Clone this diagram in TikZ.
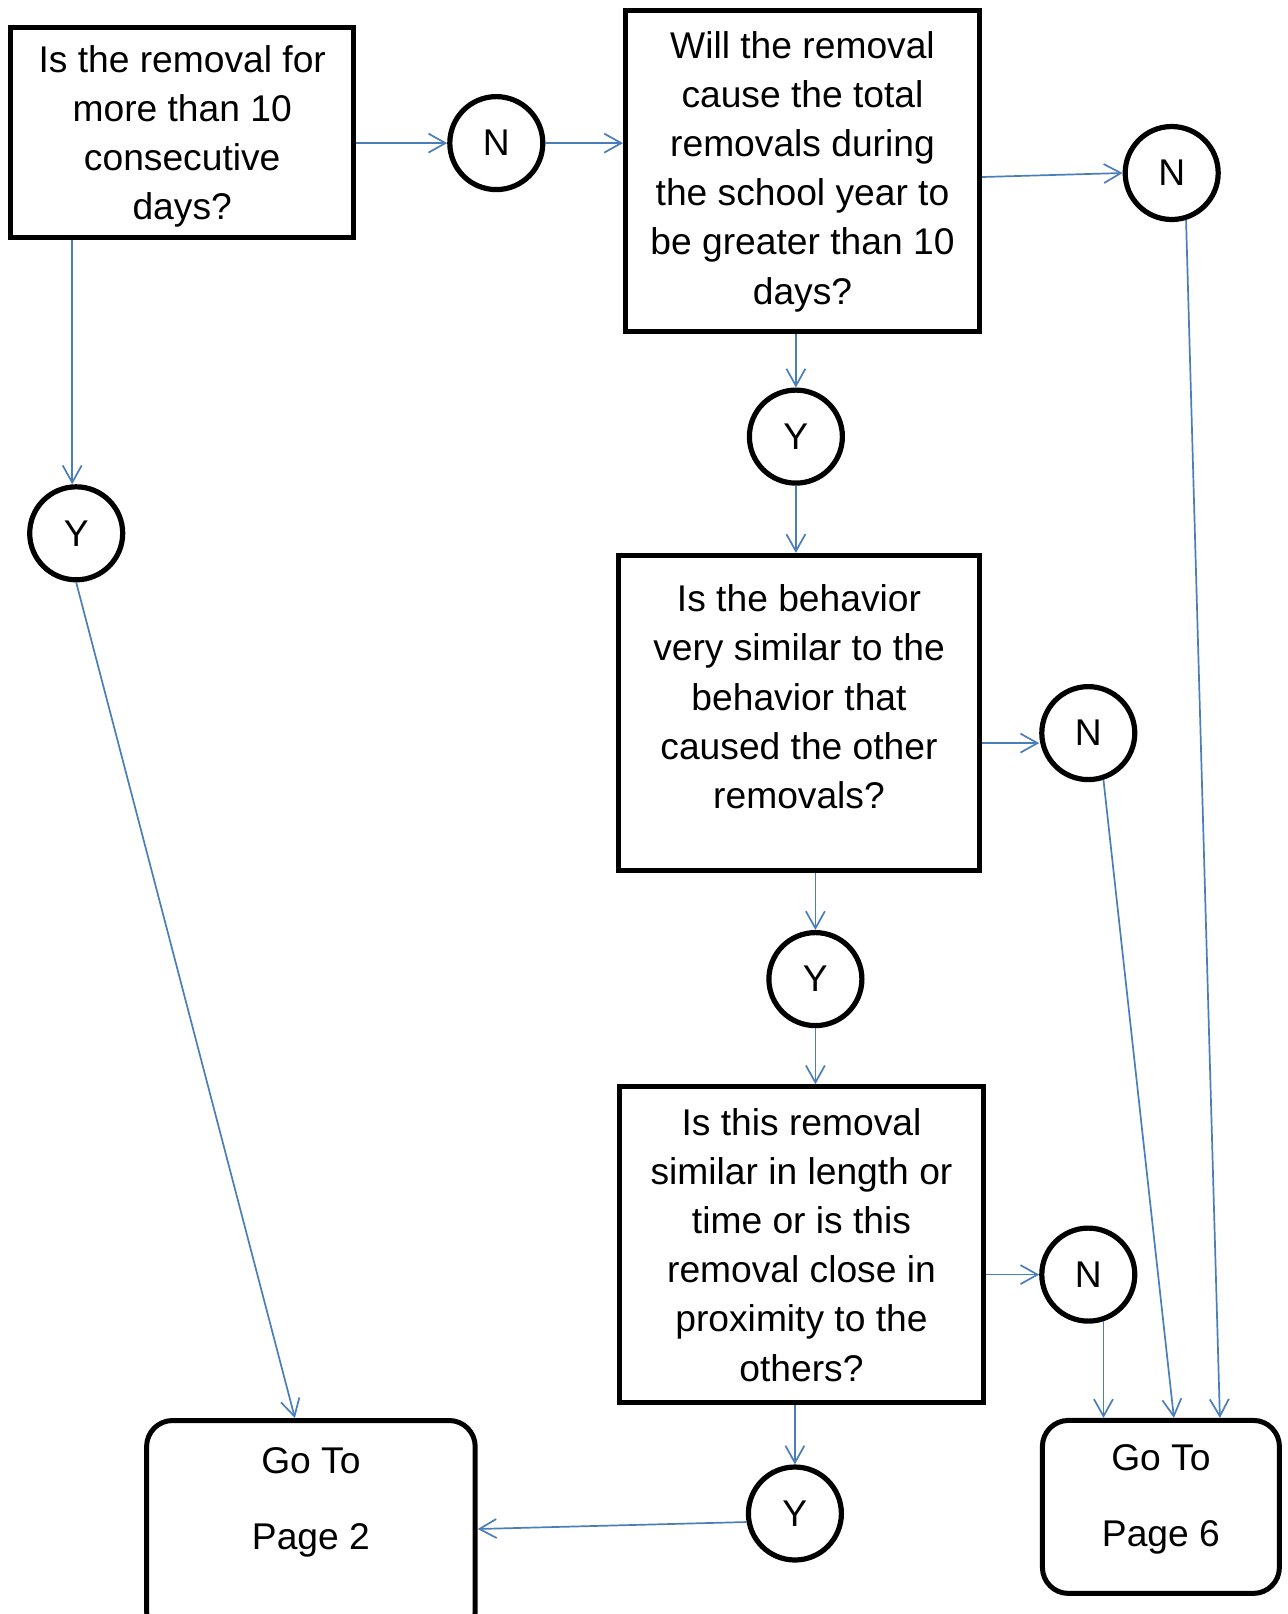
\documentclass[tikz,border=0pt]{standalone}
\usepackage{fontspec}
\setmainfont{Liberation Sans}
\usetikzlibrary{arrows.meta,calc,positioning}
\definecolor{flowblue}{HTML}{4A7EBB}

\begin{document}
\begin{tikzpicture}[x=0.5pt, y=-0.5pt, >={Straight Barb[length=8.5pt,width=9.5pt]},
    question/.style={draw, line width=2.5pt, rectangle, align=center, inner sep=0pt, font={\fontsize{18.6}{24.6}\selectfont}},
    answer/.style={draw, line width=2.6pt, circle, minimum size=46.5pt, inner sep=0pt, font={\fontsize{18.6}{24.6}\selectfont}},
    goto/.style={question, rounded corners=13pt},
    flow/.style={flowblue, line width=0.85pt, ->}]
                \useasboundingbox (0,0) rectangle (1288,1614);
                \clip (0,0) rectangle (1288,1614);

                \node[question, minimum width=171.5pt, minimum height=105pt] (removal_long) at (182.2,132.3) {\\[-7pt]Is the removal for\\more than 10\\consecutive\\days?};
                \node[answer] (no_long) at (496.3,143.1) {N};
                \node[question, minimum width=177pt, minimum height=160.5pt] (total_days) at (802.5,171.4) {Will the removal\\cause the total\\removals during\\the school year to\\be greater than 10\\days?};
                \node[answer] (no_total) at (1171.7,173) {N};
                \node[answer] (yes_long) at (76.2,533.3) {Y};
                \node[answer] (yes_total) at (795.9,436.6) {Y};
                \node[question, minimum width=180.7pt, minimum height=157.6pt] (same_behavior) at (799,713) {Is the behavior\\very similar to the\\behavior that\\caused the other\\removals?\\[-8.2pt]\mbox{}};
                \node[answer] (no_behavior) at (1088.3,733.1) {N};
                \node[answer] (yes_behavior) at (815.4,979.1) {Y};
                \node[question, minimum width=182.3pt, minimum height=158.1pt] (same_length) at (801.5,1244.8) {Is this removal\\similar in length or\\time or is this\\removal close in\\proximity to the\\others?};
                \node[answer] (no_length) at (1088.3,1274.6) {N};
                \node[answer] (yes_length) at (794.9,1513.5) {Y};
                \node[goto, minimum width=164.3pt, minimum height=108.5pt] (page_two) at (310.9,1529) {Go To\\[13.4pt]Page 2\\[6pt]\mbox{}};
                \node[goto, minimum width=118.5pt, minimum height=86.5pt] (page_six) at (1160.9,1506.9) {Go To\\[13.4pt]Page 6\\[-13pt]\mbox{}};

                \path[flow] (no_long.west -| removal_long.east) edge (no_long.west)
                    (no_long.east) edge (no_long.east -| total_days.west)
                    ($(no_total.west -| total_days.east)+(0,4)$) edge (no_total.west)
                    (no_total.-73) edge ($(page_six.north)+(59,0)$)
                    ($(yes_long.north |- removal_long.south)+(-4,0)$) edge ($(yes_long.north)+(-4,0)$)
                    (yes_long.south) edge ($(page_two.north)+(-16,0)$)
                    (yes_total.north |- total_days.south) edge (yes_total.north)
                    (yes_total.south) edge (yes_total.south |- same_behavior.north)
                    ($(no_behavior.west -| same_behavior.east)+(0,10)$) edge ($(no_behavior.west)+(0,10)$)
                    (no_behavior.-72) edge ($(page_six.north)+(13,0)$)
                    (yes_behavior.north |- same_behavior.south) edge (yes_behavior.north)
                    (yes_behavior.south) edge (yes_behavior.south |- same_length.north)
                    (no_length.west -| same_length.east) edge (no_length.west)
                    (no_length.-72) edge (no_length.-72 |- page_six.north)
                    (yes_length.north |- same_length.south) edge (yes_length.north)
                    (yes_length.190) edge (page_two.east);
            \end{tikzpicture}
\end{document}
